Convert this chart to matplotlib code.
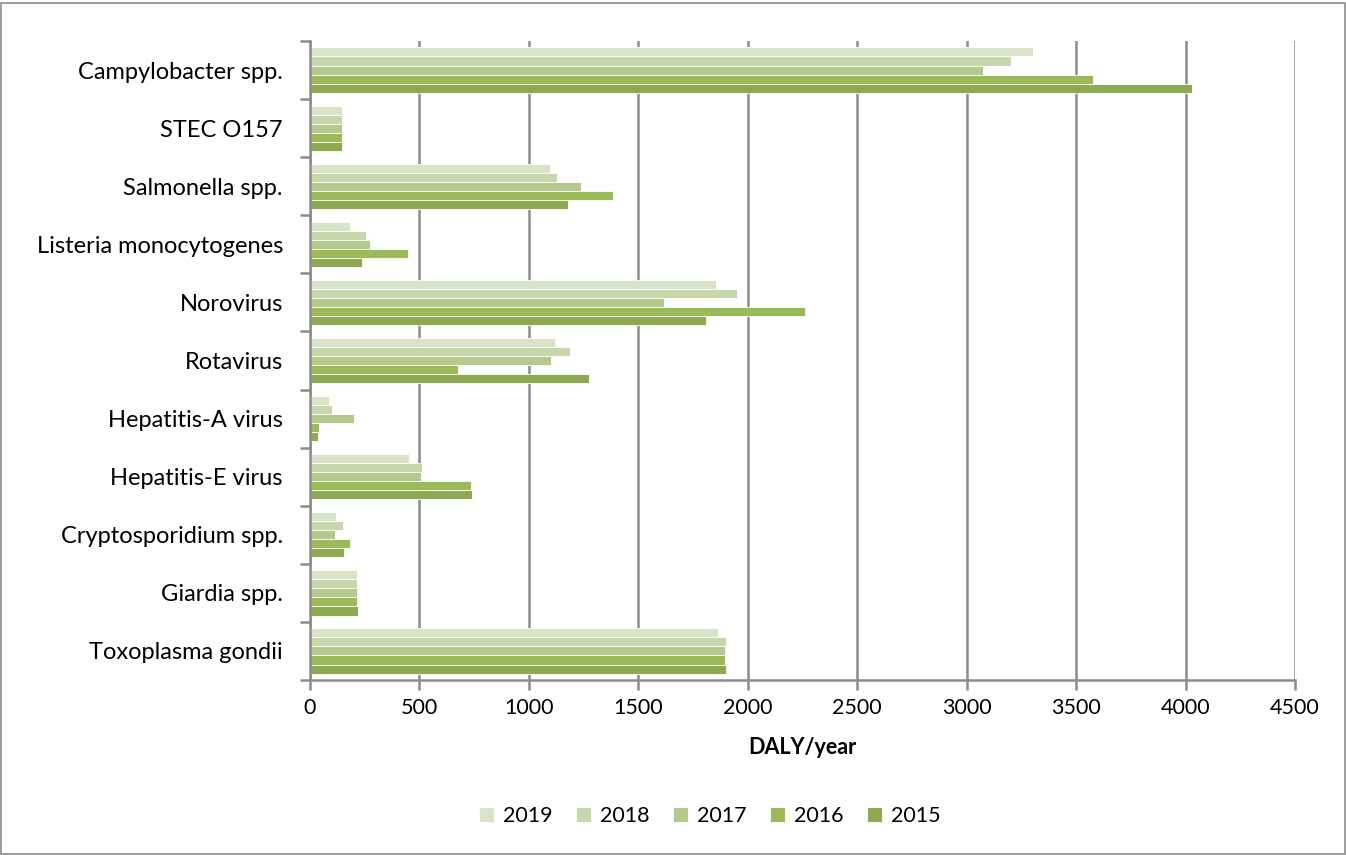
import numpy as np
import matplotlib.pyplot as plt
from matplotlib.patches import Rectangle

plt.rcParams['font.family'] = ['Lato', 'DejaVu Sans']

pathogens = ["Campylobacter spp.", "STEC O157", "Salmonella spp.",
             "Listeria monocytogenes", "Norovirus", "Rotavirus",
             "Hepatitis-A virus", "Hepatitis-E virus", "Cryptosporidium spp.",
             "Giardia spp.", "Toxoplasma gondii"]
years = ["2019", "2018", "2017", "2016", "2015"]

daly_2019 = [3305, 148, 1098, 181, 1853, 1118, 87, 453, 120, 217, 1862]
daly_2018 = [3203, 148, 1130, 258, 1950, 1187, 99, 511, 152, 214, 1901]
daly_2017 = [3075, 148, 1237, 273, 1617, 1100, 199, 506, 115, 217, 1896]
daly_2016 = [3577, 148, 1386, 447, 2261, 674, 39, 734, 181, 217, 1896]
daly_2015 = [4029, 148, 1179, 236, 1809, 1276, 37, 740, 155, 219, 1901]
series = [daly_2019, daly_2018, daly_2017, daly_2016, daly_2015]

colors = ["#D8E3C7", "#C6D7AB", "#B3CA8C", "#9BBB59", "#8DA951"]
grid_grey = "#8C8C8C"

fig = plt.figure(figsize=(13.46, 8.55), dpi=100)
ax = fig.add_axes([0.2303, 0.2047, 0.7318, 0.7473])

n = len(series)
group = 0.78
h = group / n
idx = np.arange(len(pathogens))
for k, (yr, vals) in enumerate(zip(years, series)):
    offs = -group / 2 + h * (k + 0.5)
    ax.barh(idx + offs, vals, height=h, color=colors[k], label=yr,
            edgecolor="white", linewidth=0.6, zorder=3)

ax.set_ylim(len(pathogens) - 0.5, -0.5)
ax.set_xlim(0, 4500)
ax.set_xticks(np.arange(0, 4501, 500))
ax.xaxis.grid(True, color=grid_grey, linewidth=1.8, zorder=0)

# category boundaries carry the tick marks, centres carry the labels
ax.set_yticks(np.arange(-0.5, len(pathogens)), labels=[""] * (len(pathogens) + 1))
ax.set_yticks(idx, labels=pathogens, minor=True)
ax.tick_params(axis="y", which="major", length=7, width=1.8, color=grid_grey)
ax.tick_params(axis="y", which="minor", length=0, pad=19.5, labelsize=17)
ax.tick_params(axis="x", length=7, width=1.8, color=grid_grey, labelsize=15.5, pad=6)

for side in ("top", "right"):
    ax.spines[side].set_visible(False)
for side in ("left", "bottom"):
    ax.spines[side].set_color(grid_grey)
    ax.spines[side].set_linewidth(1.8)
ax.spines["left"].set_zorder(4)

ax.set_xlabel("DALY/year", fontsize=15.5, fontweight="bold", labelpad=14)

ax.legend(loc="center", bbox_to_anchor=(0.406, -0.213), ncol=5,
          frameon=False, fontsize=15.5, handlelength=0.7, handleheight=0.7,
          handletextpad=0.4, columnspacing=1.1)

fig.patches.append(Rectangle((0.001, 0.001), 0.998, 0.996, transform=fig.transFigure,
                             fill=False, edgecolor="#8C8C8C", linewidth=1.2))

fig.savefig("out.png", dpi=100)
